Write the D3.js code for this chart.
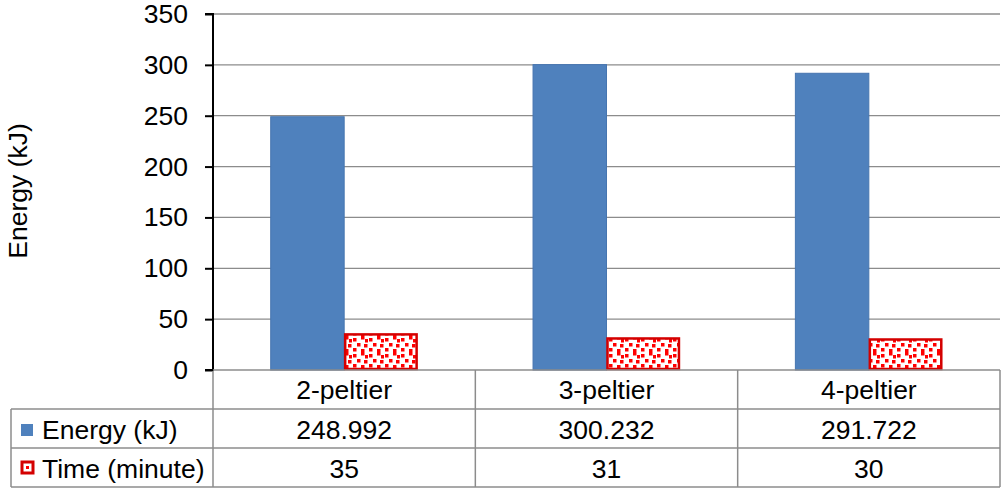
<!DOCTYPE html>
<html>
<head>
<meta charset="utf-8">
<script src="https://cdn.jsdelivr.net/npm/d3@7"></script>
<style>
  body { margin: 0; background: #fff; }
  svg { font-family: Arial, "Liberation Sans", sans-serif; }
</style>
</head>
<body>
<svg id="chart" width="1005" height="491"></svg>
<script>
var categories = ["2-peltier", "3-peltier", "4-peltier"];
var seriesNames = ["Energy (kJ)", "Time (minute)"];
var energy = [248.992, 300.232, 291.722];
var time = [35, 31, 30];
var energyLabels = ["248.992", "300.232", "291.722"];
var timeLabels = ["35", "31", "30"];
var yTicks = [0, 50, 100, 150, 200, 250, 300, 350];

var svg = d3.select("#chart");
var plotLeft = 213, plotRight = 1000, plotTop = 14, plotBottom = 370;
var rowH = 39, tableLeft = 11;
var fontSize = 26.5;

// Red dotted pattern for the time bars
var defs = svg.append("defs");
var pat = defs.append("pattern")
    .attr("id", "dots")
    .attr("patternUnits", "userSpaceOnUse")
    .attr("width", 16).attr("height", 16);
pat.append("rect").attr("width", 16).attr("height", 16).attr("fill", "#fff");
[[1,2],[9,0],[5,7],[12,8],[1,12],[9,13],[13,3]].forEach(function(p) {
    pat.append("rect").attr("x", p[0]).attr("y", p[1])
        .attr("width", 3.5).attr("height", 3.5).attr("fill", "#f00");
});

var x = d3.scaleBand().domain(categories).range([plotLeft, plotRight]);
var inner = d3.scaleBand().domain(seriesNames)
    .range([x.bandwidth() * 0.22, x.bandwidth() * 0.78]);
var y = d3.scaleLinear().domain([0, 350]).range([plotBottom, plotTop]);

// Gridlines
svg.append("g").selectAll("line").data(yTicks.slice(1)).enter().append("line")
    .attr("x1", plotLeft).attr("x2", plotRight)
    .attr("y1", function(d) { return y(d); }).attr("y2", function(d) { return y(d); })
    .attr("stroke", "#8c8c8c").attr("stroke-width", 1.3);

// Bars
var g = svg.append("g");
g.selectAll("rect.energy").data(energy).enter().append("rect").attr("class", "energy")
    .attr("x", function(d, i) { return x(categories[i]) + inner(seriesNames[0]); })
    .attr("width", inner.bandwidth())
    .attr("y", function(d) { return y(d); })
    .attr("height", function(d) { return y(0) - y(d); })
    .attr("fill", "#4f81bd").attr("stroke", "#4675b0").attr("stroke-width", 1);
g.selectAll("rect.time").data(time).enter().append("rect").attr("class", "time")
    .attr("x", function(d, i) { return x(categories[i]) + inner(seriesNames[1]) + 1; })
    .attr("width", inner.bandwidth() - 2)
    .attr("y", function(d) { return y(d); })
    .attr("height", function(d) { return y(0) - y(d) - 1; })
    .attr("fill", "url(#dots)").attr("stroke", "#d40000").attr("stroke-width", 2.5);

// Y axis
var yAxis = svg.append("g")
    .attr("transform", "translate(" + plotLeft + ",0)")
    .call(d3.axisLeft(y).tickValues(yTicks).tickSize(8).tickPadding(17));
yAxis.select(".domain").attr("stroke", "#000").attr("stroke-width", 2)
    .attr("d", "M-8," + plotTop + "H0V" + plotBottom + "H-8");
yAxis.selectAll(".tick line").attr("stroke", "#000").attr("stroke-width", 2);
yAxis.selectAll(".tick text").attr("font-size", fontSize).attr("fill", "#000")
    .attr("font-family", "Arial, 'Liberation Sans', sans-serif");

svg.append("text")
    .attr("transform", "translate(27,191) rotate(-90)")
    .attr("text-anchor", "middle")
    .attr("font-size", fontSize)
    .text("Energy (kJ)");

// Data table
var grid = "#8c8c8c";
var t = svg.append("g");
var rows = [plotBottom, plotBottom + rowH, plotBottom + 2 * rowH, plotBottom + 3 * rowH];
t.append("line").attr("x1", plotLeft).attr("x2", plotRight).attr("y1", rows[0]).attr("y2", rows[0])
    .attr("stroke", grid).attr("stroke-width", 1.5);
[rows[1], rows[2], rows[3]].forEach(function(ry) {
    t.append("line").attr("x1", tableLeft).attr("x2", plotRight).attr("y1", ry).attr("y2", ry)
        .attr("stroke", grid).attr("stroke-width", 1.5);
});
t.append("line").attr("x1", tableLeft).attr("x2", tableLeft).attr("y1", rows[1]).attr("y2", rows[3])
    .attr("stroke", grid).attr("stroke-width", 1.5);
categories.map(function(c) { return x(c); }).concat([plotRight]).forEach(function(vx, i) {
    t.append("line").attr("x1", vx).attr("x2", vx)
        .attr("y1", i === 0 ? rows[0] + 1 : rows[0]).attr("y2", rows[3])
        .attr("stroke", grid).attr("stroke-width", 1.5);
});

t.selectAll("text.cat").data(categories).enter().append("text")
    .attr("x", function(d) { return x(d) + x.bandwidth() / 2; })
    .attr("y", rows[0] + 29).attr("text-anchor", "middle").attr("font-size", fontSize)
    .text(function(d) { return d; });
t.selectAll("text.en").data(energyLabels).enter().append("text")
    .attr("x", function(d, i) { return x(categories[i]) + x.bandwidth() / 2; })
    .attr("y", rows[1] + 30).attr("text-anchor", "middle").attr("font-size", fontSize)
    .text(function(d) { return d; });
t.selectAll("text.tm").data(timeLabels).enter().append("text")
    .attr("x", function(d, i) { return x(categories[i]) + x.bandwidth() / 2; })
    .attr("y", rows[2] + 30).attr("text-anchor", "middle").attr("font-size", fontSize)
    .text(function(d) { return d; });

// Legend keys in the table
t.append("rect").attr("x", 21).attr("y", rows[1] + 15).attr("width", 12).attr("height", 12)
    .attr("fill", "#4f81bd");
t.append("rect").attr("x", 22).attr("y", rows[2] + 14).attr("width", 11).attr("height", 11)
    .attr("fill", "#fff").attr("stroke", "#d40000").attr("stroke-width", 3);
t.append("rect").attr("x", 26).attr("y", rows[2] + 18).attr("width", 3).attr("height", 3)
    .attr("fill", "#f00");
seriesNames.forEach(function(s, i) {
    t.append("text").attr("x", 42).attr("y", rows[1 + i] + 30)
        .attr("font-size", fontSize).text(s);
});
</script>
</body>
</html>
